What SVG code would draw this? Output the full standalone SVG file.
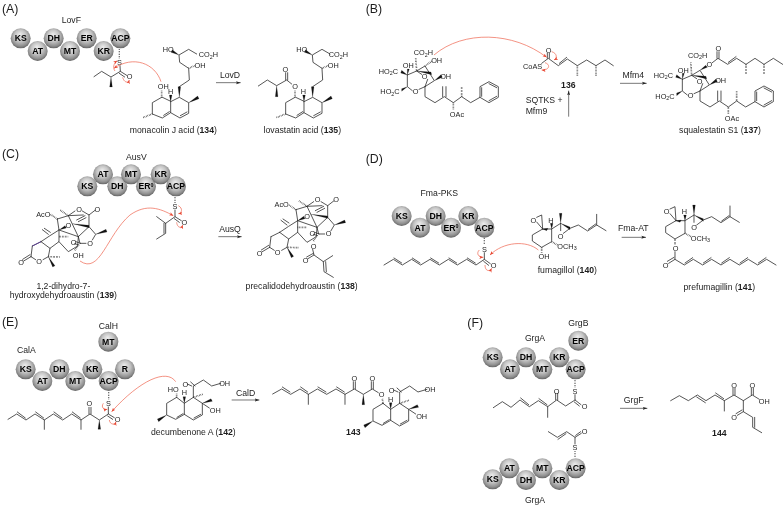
<svg xmlns="http://www.w3.org/2000/svg" xmlns:xlink="http://www.w3.org/1999/xlink" width="784" height="506" viewBox="0 0 784 506">
<style>
text{font-family:"Liberation Sans",Arial,sans-serif;fill:#1c1c1c}
.a{font-size:22px;text-anchor:middle}
.l{font-size:26px;text-anchor:middle}
.lb{font-size:26px;text-anchor:middle;font-weight:bold}
.p{font-size:37px}
.s{font-size:26px;font-weight:bold;text-anchor:middle;fill:#000}
.sub{font-size:16px}
.n{font-weight:bold}
.b{fill:none;stroke:#222;stroke-width:2.3;stroke-linejoin:round;stroke-linecap:round}
.w{fill:#111;stroke:#111;stroke-width:.5}
.h{fill:none;stroke:#222;stroke-width:5;stroke-dasharray:1.6 3}
.v{fill:none;stroke:#444;stroke-width:4;stroke-dasharray:2 3}
.u{fill:none;stroke:#5b3a9c;stroke-width:2.6}
.ball{fill:url(#ball)}
.ar{fill:none;stroke:#333;stroke-width:2;marker-end:url(#ah)}
.r{fill:none;stroke:#ee6a55;stroke-width:2.2;marker-end:url(#rh)}
</style>
<defs>
<radialGradient id="ball" cx=".5" cy=".44" r=".58" fx=".46" fy=".3">
<stop offset="0" stop-color="#ededed"/><stop offset=".5" stop-color="#c4c4c4"/><stop offset=".82" stop-color="#8e8e8e"/><stop offset="1" stop-color="#5a5a5a"/>
</radialGradient>
<marker id="ah" markerUnits="userSpaceOnUse" markerWidth="16" markerHeight="12" refX="14" refY="6" orient="auto"><path d="M0 1.5L14 6L0 10.5L3 6Z" fill="#222"/></marker>
<marker id="rh" markerUnits="userSpaceOnUse" markerWidth="14" markerHeight="12" refX="12" refY="6" orient="auto"><path d="M0 1L12 6L0 11L3 6Z" fill="#e8432e"/></marker>
<g id="mj">
<path class="b" d="M485 292L457 308L457 342L487 354L512 338L512 305ZM512 305L538 292L566 308L566 340L540 354L512 338M491 346L508 335M561 336L541 347M538 260L568 240L566 205L539 187L537 165L566 148L590 162"/>
<path class="w" d="M538 292L534 260L542 260ZM566 308L593 288L597 296ZM512 305L508 285L516 285ZM537 165L517 149L513 157Z"/>
<path class="h" d="M457 342L428 353M566 205L584 197"/>
</g>
<g id="sq">
<path class="b" d="M97 105L125 93L150 78L178 122L150 140L132 148M112 152L97 140L97 105M125 93L140 103M158 118L150 140M150 140L150 170L180 188L208 170L235 188L260 170L287 188L315 172L315 140L342 125L370 140L370 172L342 188L315 172M203 170L203 140M213 170L213 140M320 169L320 143M342 131L365 143M365 169L342 182"/>
<path class="w" d="M97 105L80 91L77 99ZM97 140L80 146L80 154ZM178 122L198 104L202 112ZM125 93L168 96L170 104ZM97 105L97 87L103 87Z"/>
<path class="h" d="M125 93L122 52M235 188L235 210M260 170L260 140"/>
</g>
<g id="au">
<path class="b" d="M127 72L160 62L180 48M202 48L222 60L240 46M222 60L222 95M127 72L132 105L105 122L78 140M132 105L132 140L105 160L78 140M100 118L82 104M106 112L88 100M105 160L100 185L84 194M62 194L48 185M48 185L26 198M45 179L23 193M78 140L52 153M52 153L48 185M132 140L160 170L188 153L190 125L132 105M160 62L190 125M160 62L205 60M185 75L210 62M190 80L213 68M190 125L222 95L242 118L232 135M213 145L195 145L190 125M196 145L183 140M192 150L179 146"/>
<path class="w" d="M132 105L150 92L154 99ZM172 86L222 91L222 98ZM100 185L113 216L120 212ZM242 118L273 103L276 111Z"/>
<path class="h" d="M127 72L106 58M160 62L135 45M100 185L135 186M132 125L160 125M188 153L178 168"/>
</g>
<g id="fu">
<path class="b" d="M518 207L487 225L487 243L515 262L545 245L545 207L518 207M500 172L515 165L518 207M500 186L518 207M545 207L572 190M572 190L572 212M580 220L600 205L625 195L653 213L680 195L708 212M680 195L680 163M655 208L677 192"/>
<path class="w" d="M545 207L541 190L549 190ZM572 190L568 160L576 160ZM572 190L600 201L600 209ZM518 207L530 212L534 205Z"/>
<path class="h" d="M545 245L563 255"/>
</g>
<g id="de">
<path class="b" d="M530 262L500 280L500 315L527 328L553 313L553 280L530 262M553 280L580 262L607 280L607 315L580 330L553 313M531 322L549 311M602 313L582 324M580 262L580 228L610 210L635 228L662 220M575 228L562 222M585 228L572 216M607 280L628 294"/>
<path class="w" d="M553 280L549 260L557 260ZM500 315L472 327L476 335ZM607 280L633 266L637 274Z"/>
<path class="h" d="M580 262L610 252"/>
</g>
</defs>
<rect width="784" height="506" fill="#fff"/>
<g id="diagram" opacity=".995">

<g id="panel-a" transform="scale(.33333)">
<text class="p" x="6" y="38">(A)</text>
<text class="l" x="214" y="68">LovF</text>
<g id="a-ks"><circle class="ball" cx="62" cy="115" r="30"/><text class="s" x="62" y="124">KS</text></g>
<g id="a-at"><circle class="ball" cx="113" cy="153" r="30"/><text class="s" x="113" y="162">AT</text></g>
<g id="a-dh"><circle class="ball" cx="161" cy="115" r="30"/><text class="s" x="161" y="124">DH</text></g>
<g id="a-mt"><circle class="ball" cx="210" cy="153" r="30"/><text class="s" x="210" y="162">MT</text></g>
<g id="a-er"><circle class="ball" cx="260" cy="115" r="30"/><text class="s" x="260" y="124">ER</text></g>
<g id="a-kr"><circle class="ball" cx="311" cy="153" r="30"/><text class="s" x="311" y="162">KR</text></g>
<g id="a-acp"><circle class="ball" cx="361" cy="115" r="30"/><text class="s" x="361" y="124">ACP</text></g>
<g id="a-thioester">
<path class="v" d="M358 148L358 175"/>
<path class="b" d="M360 197L361 214L380 226M358 220L374 231M361 214L333 231L305 214L282 230"/>
<path class="w" d="M333 231L329 261L337 261Z"/>
<text class="a" x="358" y="194">S</text><text class="a" x="389" y="238">O</text>
</g>
<g id="a-134">
<use href="#mj"/>
<path class="h" d="M485 292L485 272"/>
<text class="a" x="490" y="266">OH</text><text class="a" x="512" y="282">H</text>
<text class="a" x="505" y="156">HO</text>
<text class="a" x="625" y="172">CO<tspan class="sub" dy="4">2</tspan><tspan dy="-4">H</tspan></text>
<text class="a" x="600" y="205">OH</text>
<text class="l" x="520" y="400">monacolin J acid (<tspan class="n">134</tspan>)</text>
</g>
<g id="a-135">
<use href="#mj" x="400"/>
<path class="h" d="M885 292L885 270"/>
<path class="b" d="M875 252L860 240L830 257L802 240L775 258M857 240L857 218M863 240L863 218"/>
<path class="w" d="M830 257L826 290L834 290Z"/>
<text class="a" x="885" y="266">O</text><text class="a" x="856" y="217">O</text><text class="a" x="910" y="282">H</text>
<text class="a" x="905" y="156">HO</text>
<text class="a" x="1015" y="172">CO<tspan class="sub" dy="4">2</tspan><tspan dy="-4">H</tspan></text>
<text class="a" x="1000" y="205">OH</text>
<text class="l" x="907" y="400">lovastatin acid (<tspan class="n">135</tspan>)</text>
</g>
<text class="l" x="690" y="234">LovD</text>
</g>

<g id="panel-b" transform="translate(370 0) scale(.33333)">
<text class="p" x="-13" y="38">(B)</text>
<g id="b-136">
<path class="b" d="M515 190L535 175L565 197L592 177L622 197L650 180L678 197L705 180L730 197M532 175L532 160M538 175L538 160M568 190L590 172"/>
<path class="h" d="M622 197L622 228M678 197L678 228"/>
<text class="a" x="536" y="160">O</text><text class="a" x="488" y="206">CoAS</text>
<text class="lb" x="595" y="263">136</text>
</g>
<text class="l" x="467" y="308" style="text-anchor:start">SQTKS +</text>
<text class="l" x="467" y="342" style="text-anchor:start">Mfm9</text>
<text class="l" x="790" y="234">Mfm4</text>
<text class="l" x="1050" y="400">squalestatin S1 (<tspan class="n">137</tspan>)</text>
</g>
<g id="b-sq1" transform="translate(375 40) scale(.33333)">
<use href="#sq"/>
<path class="h" d="M150 78L170 64"/>
<text class="a" x="40" y="101">HO<tspan class="sub" dy="4">2</tspan><tspan dy="-4">C</tspan></text>
<text class="a" x="45" y="163">HO<tspan class="sub" dy="4">2</tspan><tspan dy="-4">C</tspan></text>
<text class="a" x="100" y="85">OH</text>
<text class="a" x="145" y="46">CO<tspan class="sub" dy="4">2</tspan><tspan dy="-4">H</tspan></text>
<text class="a" x="185" y="69">OH</text><text class="a" x="212" y="116">OH</text>
<text class="a" x="149" y="118">O</text><text class="a" x="122" y="161">O</text>
<text class="a" x="246" y="230">OAc</text>
</g>
<g id="b-137" transform="translate(375 40) scale(.33333)">
<use href="#sq" x="825" y="13"/>
<text class="a" x="865" y="114">HO<tspan class="sub" dy="4">2</tspan><tspan dy="-4">C</tspan></text>
<text class="a" x="870" y="176">HO<tspan class="sub" dy="4">2</tspan><tspan dy="-4">C</tspan></text>
<text class="a" x="925" y="98">OH</text>
<text class="a" x="968" y="54">CO<tspan class="sub" dy="4">2</tspan><tspan dy="-4">H</tspan></text>
<text class="a" x="1037" y="129">OH</text>
<text class="a" x="974" y="131">O</text><text class="a" x="947" y="174">O</text>
<text class="a" x="1071" y="243">OAc</text>
<path class="w" d="M975 91L992 76L997 82Z"/>
<path class="b" d="M1012 68L1029 55L1058 73L1085 55L1113 73L1140 55L1167 73L1195 55L1223 73M1026 55L1026 35M1032 55L1032 35M1060 67L1083 50"/>
<path class="h" d="M1113 73L1113 105M1167 73L1167 105"/>
<text class="a" x="1003" y="81">O</text><text class="a" x="1030" y="34">O</text>
</g>

<g id="panel-c" transform="translate(0 145) scale(.33333)">
<text class="p" x="6" y="38">(C)</text>
<text class="l" x="409" y="44">AusV</text>
<g id="c-ks"><circle class="ball" cx="262" cy="124" r="30"/><text class="s" x="262" y="133">KS</text></g>
<g id="c-at"><circle class="ball" cx="309" cy="88" r="30"/><text class="s" x="309" y="97">AT</text></g>
<g id="c-dh"><circle class="ball" cx="352" cy="124" r="30"/><text class="s" x="352" y="133">DH</text></g>
<g id="c-mt"><circle class="ball" cx="393" cy="88" r="30"/><text class="s" x="393" y="97">MT</text></g>
<g id="c-er"><circle class="ball" cx="438" cy="124" r="30"/><text class="s" x="438" y="133">ER<tspan class="sub" dy="-8">0</tspan></text></g>
<g id="c-kr"><circle class="ball" cx="482" cy="88" r="30"/><text class="s" x="482" y="97">KR</text></g>
<g id="c-acp"><circle class="ball" cx="528" cy="124" r="30"/><text class="s" x="528" y="133">ACP</text></g>
<g id="c-thioester">
<path class="v" d="M525 156L525 174"/>
<path class="b" d="M525 195L525 215L544 227M523 221L538 232M525 215L497 235L470 215M497 235L497 265L470 282M492 235L492 265"/>
<text class="a" x="525" y="193">S</text><text class="a" x="553" y="241">O</text>
</g>
<text class="l" x="690" y="262">AusQ</text>
</g>
<g id="c-139" transform="translate(15 195) scale(.33333)">
<use href="#au"/>
<path class="u" d="M78 140L52 153"/>
<text class="a" x="85" y="65">AcO</text><text class="a" x="192" y="50">O</text><text class="a" x="247" y="50">O</text>
<text class="a" x="160" y="100">O</text><text class="a" x="190" y="188">OH</text><text class="a" x="176" y="150">O</text>
<text class="a" x="225" y="152">O</text><text class="a" x="18" y="210">O</text><text class="a" x="72" y="208">O</text>
</g>
<g id="c-138" transform="translate(255 190) scale(.33333)">
<g transform="translate(-4 -13)"><use href="#au"/></g>
<path class="b" d="M173 178L177 195L159 206M175 190L155 201M177 195L205 215L233 197M205 215L207 245L235 262M212 215L214 245"/>
<text class="a" x="80" y="52">AcO</text><text class="a" x="188" y="37">O</text><text class="a" x="243" y="37">O</text>
<text class="a" x="156" y="87">O</text><text class="a" x="172" y="137">O</text><text class="a" x="221" y="139">O</text>
<text class="a" x="14" y="197">O</text><text class="a" x="68" y="195">O</text>
<text class="a" x="176" y="176">O</text><text class="a" x="152" y="220">O</text>
</g>
<g id="c-labels" transform="translate(0 145) scale(.33333)">
<text class="l" x="190" y="431">1,2-dihydro-7-</text>
<text class="l" x="190" y="460">hydroxydehydroaustin (<tspan class="n">139</tspan>)</text>
<text class="l" x="905" y="433">precalidodehydroaustin (<tspan class="n">138</tspan>)</text>
</g>

<g id="panel-d" transform="translate(370 160) scale(.33333)">
<text class="p" x="-13" y="8">(D)</text>
<text class="l" x="208" y="109">Fma-PKS</text>
<g id="d-ks"><circle class="ball" cx="95" cy="168" r="30"/><text class="s" x="95" y="177">KS</text></g>
<g id="d-at"><circle class="ball" cx="150" cy="203" r="30"/><text class="s" x="150" y="212">AT</text></g>
<g id="d-dh"><circle class="ball" cx="197" cy="168" r="30"/><text class="s" x="197" y="177">DH</text></g>
<g id="d-er"><circle class="ball" cx="243" cy="203" r="30"/><text class="s" x="243" y="212">ER<tspan class="sub" dy="-8">0</tspan></text></g>
<g id="d-kr"><circle class="ball" cx="295" cy="168" r="30"/><text class="s" x="295" y="177">KR</text></g>
<g id="d-acp"><circle class="ball" cx="343" cy="203" r="30"/><text class="s" x="343" y="212">ACP</text></g>
<g id="d-thioester">
<path class="v" d="M343 235L343 255"/>
<path class="b" d="M343 278L343 298L361 311M341 304L356 316M343 298L318 315L290 298L262 315L235 298L208 315L180 298L152 315L125 298L97 315L70 298L42 315M316 309L292 294M260 309L237 294M206 309L182 294M150 309L127 294M95 309L72 294"/>
<text class="a" x="343" y="276">S</text><text class="a" x="371" y="324">O</text>
</g>
<g id="d-140">
<use href="#fu"/>
<path class="h" d="M515 262L515 280"/>
<text class="a" x="490" y="188">O</text><text class="a" x="543" y="188">H</text><text class="a" x="572" y="236">O</text>
<text class="a" x="591" y="267">OCH<tspan class="sub" dy="4">3</tspan></text><text class="a" x="522" y="298">OH</text>
<text class="l" x="592" y="339">fumagillol (<tspan class="n">140</tspan>)</text>
</g>
<g id="d-141">
<use href="#fu" x="400" y="-25"/>
<path class="h" d="M915 237L915 255"/>
<path class="b" d="M915 275L915 298L896 310M912 292L892 304M915 298L943 315L970 298L998 315L1025 298L1053 315L1080 298L1108 315L1135 298L1163 315L1190 298L1218 315M945 309L968 293M1000 309L1023 293M1055 309L1078 293M1110 309L1133 293M1165 309L1188 293"/>
<text class="a" x="890" y="163">O</text><text class="a" x="943" y="163">H</text><text class="a" x="972" y="211">O</text>
<text class="a" x="991" y="242">OCH<tspan class="sub" dy="4">3</tspan></text><text class="a" x="917" y="273">O</text><text class="a" x="887" y="324">O</text>
<text class="l" x="1048" y="389">prefumagillin (<tspan class="n">141</tspan>)</text>
</g>
<text class="l" x="790" y="214">Fma-AT</text>
</g>

<g id="panel-e" transform="translate(0 310) scale(.33333)">
<text class="p" x="6" y="48">(E)</text>
<text class="l" x="325" y="56">CalH</text><text class="l" x="79" y="129">CalA</text>
<g id="e-mth"><circle class="ball" cx="325" cy="95" r="30"/><text class="s" x="325" y="104">MT</text></g>
<g id="e-ks"><circle class="ball" cx="77" cy="178" r="30"/><text class="s" x="77" y="187">KS</text></g>
<g id="e-at"><circle class="ball" cx="127" cy="213" r="30"/><text class="s" x="127" y="222">AT</text></g>
<g id="e-dh"><circle class="ball" cx="178" cy="178" r="30"/><text class="s" x="178" y="187">DH</text></g>
<g id="e-mt"><circle class="ball" cx="226" cy="213" r="30"/><text class="s" x="226" y="222">MT</text></g>
<g id="e-kr"><circle class="ball" cx="277" cy="178" r="30"/><text class="s" x="277" y="187">KR</text></g>
<g id="e-r"><circle class="ball" cx="375" cy="178" r="30"/><text class="s" x="375" y="187">R</text></g>
<g id="e-acp"><circle class="ball" cx="326" cy="213" r="30"/><text class="s" x="326" y="222">ACP</text></g>
<g id="e-thioester">
<path class="v" d="M326 246L326 268"/>
<path class="b" d="M325 291L325 312L343 323M323 318L338 328M325 312L298 330L270 312L243 330L215 312L188 330L160 312L133 330L105 312L78 330L50 312L24 328M267 312L267 292M273 312L273 292M243 330L243 358M133 330L133 358M241 324L217 306M186 324L162 306M131 324L107 306M76 324L52 306"/>
<path class="w" d="M298 330L294 358L302 358Z"/>
<text class="a" x="325" y="288">S</text><text class="a" x="353" y="336">O</text><text class="a" x="268" y="288">O</text>
</g>
<g id="e-142">
<use href="#de"/>
<path class="h" d="M530 262L530 248"/>
<text class="a" x="520" y="245">HO</text><text class="a" x="553" y="256">H</text><text class="a" x="556" y="230">O</text>
<text class="a" x="674" y="228">OH</text><text class="a" x="646" y="308">OH</text>
<text class="l" x="580" y="374">decumbenone A (<tspan class="n">142</tspan>)</text>
</g>
<g id="e-143">
<use href="#de" x="619" y="18"/>
<path class="h" d="M1149 282L1147 265"/>
<path class="b" d="M818 252L845 237L872 253L900 237L925 253L952 237L980 253L1008 237L1035 253L1063 237L1090 253L1117 237L1135 248M925 253L925 283M1035 253L1035 283M847 231L870 246M902 231L923 246M954 231L978 246M1010 231L1033 246M1060 237L1060 215M1066 237L1066 215M1114 237L1114 215M1120 237L1120 215"/>
<path class="w" d="M1090 253L1086 284L1094 284Z"/>
<text class="a" x="1063" y="214">O</text><text class="a" x="1117" y="214">O</text><text class="a" x="1145" y="262">O</text>
<text class="a" x="1172" y="276">H</text><text class="a" x="1175" y="248">O</text><text class="a" x="1290" y="246">OH</text><text class="a" x="1265" y="326">OH</text>
<text class="lb" x="1060" y="376">143</text>
</g>
<text class="l" x="737" y="257">CalD</text>
</g>

<g id="panel-f" transform="translate(450 310) scale(.33333)">
<text class="p" x="52" y="50">(F)</text>
<text class="l" x="385" y="47">GrgB</text><text class="l" x="255" y="94">GrgA</text><text class="l" x="255" y="578">GrgA</text>
<g id="f-er"><circle class="ball" cx="385" cy="92" r="30"/><text class="s" x="385" y="101">ER</text></g>
<g id="f-ks"><circle class="ball" cx="128" cy="142" r="30"/><text class="s" x="128" y="151">KS</text></g>
<g id="f-at"><circle class="ball" cx="180" cy="178" r="30"/><text class="s" x="180" y="187">AT</text></g>
<g id="f-dh"><circle class="ball" cx="228" cy="142" r="30"/><text class="s" x="228" y="151">DH</text></g>
<g id="f-mt"><circle class="ball" cx="277" cy="178" r="30"/><text class="s" x="277" y="187">MT</text></g>
<g id="f-kr"><circle class="ball" cx="328" cy="142" r="30"/><text class="s" x="328" y="151">KR</text></g>
<g id="f-acp"><circle class="ball" cx="377" cy="178" r="30"/><text class="s" x="377" y="187">ACP</text></g>
<g id="f-ks2"><circle class="ball" cx="128" cy="508" r="30"/><text class="s" x="128" y="517">KS</text></g>
<g id="f-at2"><circle class="ball" cx="178" cy="475" r="30"/><text class="s" x="178" y="484">AT</text></g>
<g id="f-dh2"><circle class="ball" cx="228" cy="510" r="30"/><text class="s" x="228" y="519">DH</text></g>
<g id="f-mt2"><circle class="ball" cx="277" cy="475" r="30"/><text class="s" x="277" y="484">MT</text></g>
<g id="f-kr2"><circle class="ball" cx="328" cy="510" r="30"/><text class="s" x="328" y="519">KR</text></g>
<g id="f-acp2"><circle class="ball" cx="377" cy="475" r="30"/><text class="s" x="377" y="484">ACP</text></g>
<g id="f-chain1">
<path class="v" d="M375 210L375 234"/>
<path class="b" d="M375 254L375 270L393 284M373 276L388 288M375 270L347 288L320 270L293 290L265 272L238 290L210 270L183 292L157 275L130 293M317 270L317 250M323 270L323 250M293 290L293 322M291 284L267 266M236 284L212 264"/>
<text class="a" x="375" y="253">S</text><text class="a" x="404" y="298">O</text><text class="a" x="320" y="251">O</text>
</g>
<g id="f-chain2">
<path class="v" d="M375 424L375 444"/>
<path class="b" d="M375 402L375 382L394 370M377 376L392 365M375 382L350 365L322 382L295 365M348 371L324 388"/>
<text class="a" x="375" y="420">S</text><text class="a" x="404" y="372">O</text>
</g>
<g id="f-144">
<path class="b" d="M662 272L688 257L715 272L742 255L768 272L795 255L823 272L852 255L880 272L907 255L928 268M740 261L766 278M797 249L821 266M823 272L823 303M849 255L849 235M855 255L855 235M904 255L904 235M910 255L910 235M880 272L880 305L862 316M876 300L858 311M880 305L908 322L908 352L935 368M914 322L914 352"/>
<text class="a" x="852" y="233">O</text><text class="a" x="907" y="233">O</text><text class="a" x="943" y="281">OH</text><text class="a" x="852" y="329">O</text>
<text class="lb" x="808" y="379">144</text>
</g>
<text class="l" x="551" y="279">GrgF</text>
</g>

<g id="connectors">
<g transform="scale(.33333)">
<path class="ar" d="M648 248L722 248"/>
<path class="r" d="M483 245C465 190 400 165 342 205"/>
<path class="r" d="M345 213C338 205 340 190 352 182"/>
<path class="r" d="M368 232C372 248 385 250 388 240"/>
</g>
<g transform="translate(370 0) scale(.33333)">
<path class="ar" d="M750 250L830 250"/>
<path class="ar" d="M596 350L596 272"/>
<path class="r" d="M192 165C280 90 430 95 530 172"/>
<path class="r" d="M545 155C562 160 562 175 552 180"/>
<path class="r" d="M525 188C545 195 535 212 515 210"/>
</g>
<g transform="translate(0 145) scale(.33333)">
<path class="ar" d="M655 275L725 275"/>
<path class="r" d="M240 348C300 390 320 270 390 210C440 175 480 190 520 212"/>
<path class="r" d="M535 182C550 190 545 205 535 206"/>
<path class="r" d="M530 232C532 250 545 250 548 240"/>
</g>
<g transform="translate(370 160) scale(.33333)">
<path class="ar" d="M755 232L828 232"/>
<path class="r" d="M505 270C470 240 400 245 360 285"/>
<path class="r" d="M328 270C318 280 325 292 340 292"/>
<path class="r" d="M345 315C345 335 360 335 365 325"/>
</g>
<g transform="translate(0 310) scale(.33333)">
<path class="ar" d="M695 270L778 270"/>
<path class="r" d="M527 215C500 175 420 210 335 305"/>
<path class="r" d="M310 280C302 292 312 300 322 298"/>
<path class="r" d="M328 330C330 345 345 345 348 335"/>
</g>
<g transform="translate(450 310) scale(.33333)">
<path class="ar" d="M510 295L592 295"/>
</g>
</g>
</g>
</svg>
